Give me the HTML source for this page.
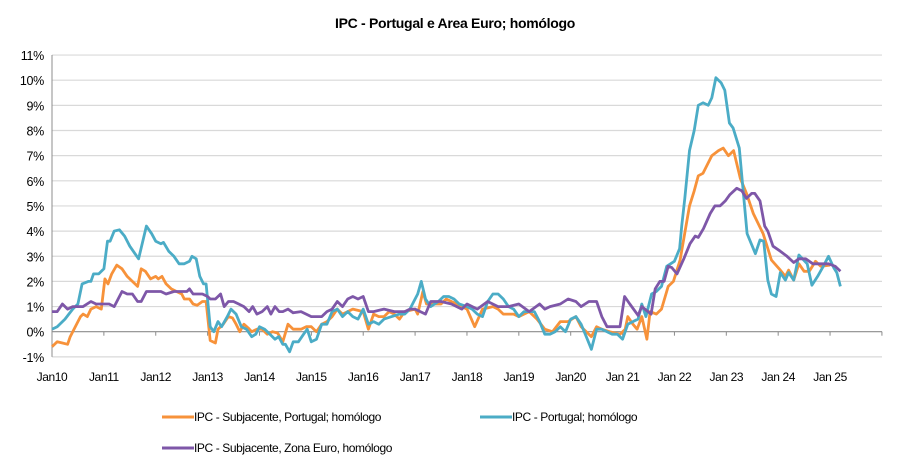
<!DOCTYPE html>
<html><head><meta charset="utf-8"><style>
body{margin:0;background:#fff;}
svg{display:block;font-family:"Liberation Sans",Arial,sans-serif;}
</style></head><body>
<svg id="s" width="907" height="465" viewBox="0 0 907 465">
<text x="455" y="28" text-anchor="middle" font-size="14" font-weight="bold" fill="#000" letter-spacing="-0.3">IPC - Portugal e Area Euro; homólogo</text>
<g id="grid"></g>
<g id="lines" fill="none" stroke-width="2.8" stroke-linejoin="round"></g>
<g font-size="12" fill="#000" letter-spacing="-0.4">
<line x1="162" y1="417" x2="194" y2="417" stroke="#F7923A" stroke-width="3"/>
<text x="194" y="421">IPC - Subjacente, Portugal; homólogo</text>
<line x1="480" y1="417" x2="512" y2="417" stroke="#4BACC6" stroke-width="3"/>
<text x="512" y="421">IPC - Portugal; homólogo</text>
<line x1="162" y1="448" x2="194" y2="448" stroke="#7E57A8" stroke-width="3"/>
<text x="194" y="452">IPC - Subjacente, Zona Euro, homólogo</text>
</g>
</svg>
<script>
var X0=52,XW=51.87,Y0=331.7,YS=25.15;
function X(t){return X0+(t-2010)*XW}
function Y(v){return Y0-v*YS}
var ns="http://www.w3.org/2000/svg",g=document.getElementById('grid'),h='';
for(var i=-1;i<=11;i++){var y=Y(i);
 h+='<line x1="52" x2="882" y1="'+y+'" y2="'+y+'" stroke="'+(i==0?'#8c8c8c':'#d9d9d9')+'" stroke-width="'+(i==0?1.2:1.2)+'"/>';
 h+='<text x="44" y="'+(y+5)+'" text-anchor="end" font-size="12.5" letter-spacing="-0.3">'+i+'%</text>';}
h+='<line x1="52" x2="52" y1="'+Y(11)+'" y2="'+Y(-1)+'" stroke="#8c8c8c" stroke-width="1"/>';
for(var i=0;i<=16;i++){var x=X(2010+i);
 h+='<line x1="'+x+'" x2="'+x+'" y1="'+Y0+'" y2="'+(Y0+4)+'" stroke="#8c8c8c"/>';
 if(i<16)h+='<text x="'+x+'" y="381" text-anchor="middle" font-size="12" letter-spacing="-0.4">Jan'+(i<11?'':' ')+(10+i)+'</text>';}
g.innerHTML=h;
var teal=[2010,0.1,2010.1,0.2,2010.25,0.5,2010.4,0.9,2010.5,1.1,2010.58,1.9,2010.7,2.0,2010.75,2.0,2010.8,2.3,2010.9,2.3,2011,2.5,2011.07,3.6,2011.12,3.6,2011.2,4.0,2011.3,4.05,2011.4,3.8,2011.5,3.4,2011.6,3.1,2011.67,2.9,2011.75,3.6,2011.82,4.2,2011.92,3.9,2012,3.6,2012.1,3.5,2012.15,3.55,2012.25,3.2,2012.35,3.0,2012.45,2.7,2012.55,2.7,2012.65,2.8,2012.7,3.0,2012.78,2.9,2012.85,2.2,2012.92,1.9,2012.97,1.9,2013.05,0.2,2013.12,0.0,2013.2,0.4,2013.27,0.2,2013.38,0.6,2013.45,0.9,2013.55,0.7,2013.65,0.2,2013.75,0.1,2013.85,-0.2,2013.93,-0.1,2014,0.2,2014.1,0.1,2014.2,-0.1,2014.3,-0.3,2014.37,-0.2,2014.45,-0.5,2014.5,-0.5,2014.58,-0.8,2014.65,-0.4,2014.75,-0.4,2014.85,-0.1,2014.92,0.1,2015,-0.4,2015.1,-0.3,2015.2,0.3,2015.3,0.3,2015.4,0.8,2015.5,0.9,2015.6,0.6,2015.7,0.8,2015.8,0.6,2015.9,0.5,2016,0.9,2016.1,0.3,2016.2,0.4,2016.3,0.3,2016.4,0.5,2016.55,0.6,2016.7,0.7,2016.8,0.7,2016.9,0.9,2017,1.3,2017.05,1.5,2017.12,2.0,2017.2,1.3,2017.3,1.0,2017.45,1.2,2017.55,1.4,2017.65,1.4,2017.75,1.3,2017.85,1.1,2018,1.0,2018.1,0.9,2018.2,0.7,2018.3,0.6,2018.4,1.2,2018.5,1.5,2018.6,1.5,2018.7,1.3,2018.8,1.0,2018.9,0.9,2019,0.6,2019.1,0.8,2019.2,0.8,2019.3,0.8,2019.4,0.4,2019.5,-0.1,2019.6,-0.1,2019.7,0.0,2019.8,0.2,2019.9,0.0,2020,0.5,2020.1,0.6,2020.2,0.3,2020.3,-0.2,2020.4,-0.7,2020.5,0.1,2020.6,0.1,2020.7,0.0,2020.8,-0.1,2020.9,-0.1,2021,-0.3,2021.1,0.3,2021.2,0.4,2021.3,0.5,2021.37,1.1,2021.45,0.6,2021.56,1.5,2021.65,1.6,2021.75,1.8,2021.85,2.6,2022,2.8,2022.1,3.3,2022.14,4.2,2022.2,5.3,2022.29,7.2,2022.38,8.0,2022.46,9.0,2022.55,9.1,2022.65,9.0,2022.72,9.3,2022.8,10.1,2022.9,9.9,2022.97,9.6,2023.06,8.3,2023.13,8.1,2023.25,7.3,2023.33,5.5,2023.4,3.9,2023.56,3.1,2023.65,3.65,2023.72,3.6,2023.8,2.05,2023.87,1.5,2023.96,1.4,2024.04,2.35,2024.14,2.05,2024.2,2.35,2024.3,2.05,2024.4,3.05,2024.56,2.7,2024.65,1.85,2024.76,2.2,2024.87,2.6,2024.97,3.0,2025.07,2.55,2025.13,2.35,2025.2,1.8];
var orange=[2010,-0.6,2010.1,-0.4,2010.2,-0.45,2010.3,-0.5,2010.35,-0.2,2010.45,0.2,2010.55,0.6,2010.6,0.7,2010.68,0.6,2010.75,0.9,2010.85,1.0,2010.95,0.9,2011.02,2.1,2011.08,1.9,2011.15,2.3,2011.25,2.65,2011.35,2.5,2011.45,2.2,2011.55,2.0,2011.65,1.8,2011.72,2.5,2011.8,2.4,2011.9,2.1,2012,2.2,2012.05,2.1,2012.12,2.2,2012.2,1.9,2012.3,1.7,2012.4,1.6,2012.5,1.5,2012.55,1.3,2012.65,1.3,2012.72,1.1,2012.8,1.05,2012.9,1.2,2012.97,1.2,2013.05,-0.35,2013.15,-0.45,2013.2,0.1,2013.3,0.3,2013.4,0.6,2013.48,0.55,2013.55,0.3,2013.62,0.0,2013.7,0.3,2013.78,0.15,2013.85,0.0,2013.95,0.1,2014.05,0.1,2014.15,-0.1,2014.25,0.0,2014.35,-0.05,2014.45,-0.4,2014.55,0.3,2014.65,0.1,2014.8,0.1,2014.9,0.2,2015,0.2,2015.1,0.0,2015.2,0.3,2015.3,0.4,2015.4,0.6,2015.5,0.9,2015.6,0.7,2015.7,0.8,2015.8,0.9,2016,0.8,2016.1,0.1,2016.2,0.7,2016.3,0.6,2016.4,0.6,2016.5,0.8,2016.6,0.7,2016.7,0.5,2016.8,0.8,2017,0.9,2017.05,0.7,2017.15,1.6,2017.22,1.1,2017.3,1.1,2017.5,1.1,2017.6,1.3,2017.7,1.2,2017.8,1.1,2018,0.9,2018.15,0.2,2018.3,0.9,2018.5,1.0,2018.6,0.9,2018.7,0.7,2018.9,0.7,2019,0.6,2019.2,0.8,2019.35,0.5,2019.5,0.1,2019.65,0.0,2019.8,0.4,2019.95,0.4,2020.1,0.6,2020.2,0.2,2020.3,0.0,2020.4,-0.2,2020.5,0.2,2020.6,0.1,2020.75,0.0,2020.95,-0.1,2021.05,0.1,2021.1,0.6,2021.2,0.3,2021.28,0.1,2021.37,0.6,2021.47,-0.3,2021.53,0.8,2021.65,0.7,2021.75,0.9,2021.88,1.8,2021.98,2.0,2022.11,2.85,2022.29,5.0,2022.38,5.6,2022.46,6.2,2022.55,6.3,2022.72,7.0,2022.85,7.2,2022.94,7.3,2023.04,7.0,2023.14,7.2,2023.27,6.1,2023.39,5.5,2023.52,4.7,2023.71,3.9,2023.87,2.85,2024.04,2.45,2024.14,2.2,2024.2,2.45,2024.3,2.05,2024.4,2.7,2024.5,2.4,2024.6,2.4,2024.72,2.8,2024.82,2.6,2025,2.65];
var purple=[2010,0.8,2010.1,0.8,2010.2,1.1,2010.3,0.9,2010.4,1.0,2010.6,1.0,2010.75,1.2,2010.85,1.1,2011.1,1.1,2011.2,1.0,2011.35,1.6,2011.45,1.5,2011.55,1.5,2011.65,1.2,2011.72,1.2,2011.82,1.6,2012.1,1.6,2012.2,1.5,2012.35,1.6,2012.6,1.6,2012.65,1.7,2012.72,1.5,2012.9,1.5,2013,1.4,2013.05,1.3,2013.15,1.3,2013.25,1.5,2013.32,1.0,2013.4,1.2,2013.5,1.2,2013.6,1.1,2013.7,1.0,2013.8,0.8,2013.87,1.0,2013.95,0.7,2014.05,0.8,2014.15,1.0,2014.22,0.7,2014.3,1.0,2014.38,0.8,2014.45,0.8,2014.55,0.9,2014.65,0.75,2014.8,0.8,2015,0.6,2015.2,0.6,2015.3,0.8,2015.4,0.9,2015.5,1.2,2015.6,1.0,2015.7,1.3,2015.8,1.4,2015.9,1.3,2016,1.4,2016.1,0.8,2016.2,0.8,2016.4,0.9,2016.6,0.8,2016.8,0.8,2016.9,0.9,2017,0.9,2017.2,0.7,2017.3,1.2,2017.5,1.2,2017.7,1.1,2017.9,0.9,2018,1.1,2018.2,0.9,2018.4,1.2,2018.6,1.0,2018.8,1.0,2019,1.1,2019.2,0.8,2019.4,1.1,2019.5,0.9,2019.6,1.0,2019.8,1.1,2019.95,1.3,2020.1,1.2,2020.2,1.0,2020.35,1.2,2020.5,1.2,2020.6,0.6,2020.7,0.2,2020.95,0.2,2021.04,1.4,2021.14,1.1,2021.3,0.65,2021.37,1.0,2021.55,0.7,2021.63,1.7,2021.72,2.0,2021.8,2.0,2021.88,2.6,2021.95,2.55,2022.05,2.3,2022.18,2.9,2022.3,3.5,2022.4,3.8,2022.46,3.75,2022.56,4.1,2022.69,4.7,2022.78,5.0,2022.88,5.0,2022.98,5.2,2023.07,5.45,2023.2,5.7,2023.3,5.6,2023.39,5.3,2023.49,5.5,2023.55,5.5,2023.65,5.2,2023.74,4.2,2023.8,4.0,2023.9,3.4,2024.04,3.2,2024.17,3.0,2024.3,2.75,2024.4,2.9,2024.53,2.9,2024.67,2.7,2024.97,2.7,2025.1,2.6,2025.2,2.4];
var L=document.getElementById('lines'),o='';
[[orange,'#F7923A'],[teal,'#4BACC6'],[purple,'#7E57A8']].forEach(function(s){
 var d=s[0],p='';for(var i=0;i<d.length;i+=2)p+=(i?'L':'M')+X(d[i]).toFixed(1)+','+Y(d[i+1]).toFixed(1);
 o+='<path d="'+p+'" stroke="'+s[1]+'"/>';});
L.innerHTML=o;
</script>
</body></html>
